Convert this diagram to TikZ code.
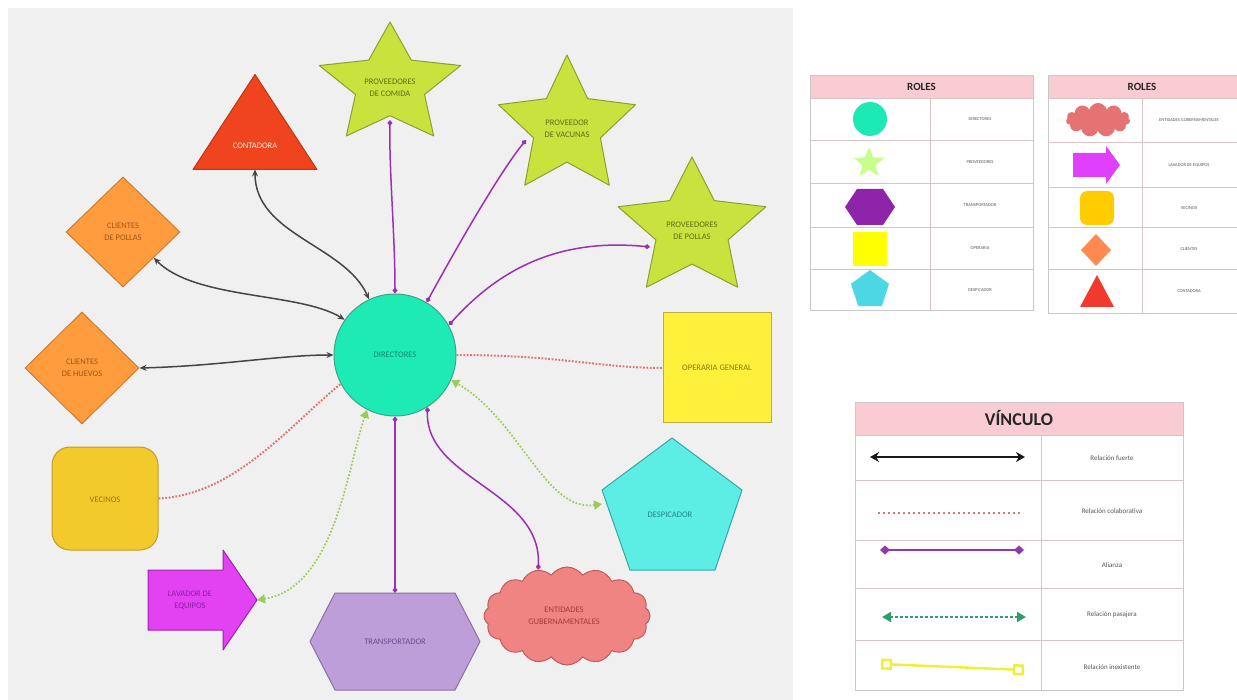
\documentclass[tikz,border=0pt]{standalone}
\usepackage{fontspec}
\setmainfont{Carlito}
\usetikzlibrary{shapes.geometric,shapes.symbols,arrows.meta}
\definecolor{bggray}{HTML}{F0F0F0}
\definecolor{dirF}{HTML}{1EEAB4}\definecolor{dirB}{HTML}{3AA58A}\definecolor{dirT}{HTML}{138A6C}
\definecolor{contF}{HTML}{F0441E}\definecolor{contB}{HTML}{B83818}
\definecolor{starF}{HTML}{CAE23E}\definecolor{starB}{HTML}{8E9E32}\definecolor{starT}{HTML}{5E6E14}
\definecolor{diaF}{HTML}{FF9D3E}\definecolor{diaB}{HTML}{CC7C34}\definecolor{diaT}{HTML}{9C5818}
\definecolor{vecF}{HTML}{F3CA2C}\definecolor{vecB}{HTML}{C49A2A}\definecolor{vecT}{HTML}{967412}
\definecolor{lavF}{HTML}{E242F2}\definecolor{lavB}{HTML}{9E22B0}\definecolor{lavT}{HTML}{8A1E9E}
\definecolor{trF}{HTML}{BE9ED8}\definecolor{trB}{HTML}{8C6EAA}\definecolor{trT}{HTML}{6A4C90}
\definecolor{entF}{HTML}{F08482}\definecolor{entB}{HTML}{C05C5A}\definecolor{entT}{HTML}{A83838}
\definecolor{despF}{HTML}{5CEDE4}\definecolor{despB}{HTML}{3AA6A6}\definecolor{despT}{HTML}{1E8888}
\definecolor{opF}{HTML}{FFF03C}\definecolor{opB}{HTML}{BCAE3E}\definecolor{opT}{HTML}{8A7A12}
\definecolor{strongc}{HTML}{454545}\definecolor{allyc}{HTML}{9B30B5}
\definecolor{collabc}{HTML}{E0766E}\definecolor{passc}{HTML}{9CCB5A}
\definecolor{hdrF}{HTML}{F8CCD2}\definecolor{gridc}{HTML}{DCC2C6}\definecolor{outc}{HTML}{C8C8C8}
\definecolor{legT}{HTML}{555555}
\definecolor{icCirc}{HTML}{1DE9B6}\definecolor{icStar}{HTML}{C6FF8C}\definecolor{icHex}{HTML}{8E24AA}
\definecolor{icSq}{HTML}{FFFF00}\definecolor{icPent}{HTML}{4DD6E4}\definecolor{icCloud}{HTML}{E57373}
\definecolor{icArr}{HTML}{E040FB}\definecolor{icRsq}{HTML}{FFCC00}\definecolor{icDia}{HTML}{FF8A50}
\definecolor{icTri}{HTML}{F03A2E}\definecolor{legPass}{HTML}{2E9E6E}\definecolor{legYel}{HTML}{EEF030}
\definecolor{legAlly}{HTML}{8E3AAE}
\newcommand{\mystarshape}[6]{%
  \filldraw[#6] plot[samples at={0,...,9}, variable=\k]
   ({#1 + #5*#3*(1-(1-1/#4)*mod(\k,2))*sin(36*\k)},
    {#2 - #3*(1-(1-1/#4)*mod(\k,2))*cos(36*\k)}) -- cycle;}
\begin{document}
\begin{tikzpicture}[x=1pt,y=-1pt,
  lbl/.style={font=\fontsize{8.5}{12}\selectfont, align=center, inner sep=1pt},
  box/.style={inner sep=0pt, outer sep=0pt, draw=none},
  shp/.style={line width=1pt, line join=round},
  strong/.style={draw=strongc, line width=1.5pt, {Stealth[length=7pt,width=6pt]}-{Stealth[length=7pt,width=6pt]}},
  ally/.style={draw=allyc, line width=1.5pt, {Diamond[length=6pt,width=5pt]}-{Diamond[length=6pt,width=5pt]}},
  collab/.style={draw=collabc, line width=2pt, dash pattern=on 1.8pt off 1.6pt},
  passing/.style={draw=passc, line width=1.7pt, dash pattern=on 1.7pt off 1.8pt, {Triangle[length=8pt,width=9pt]}-{Triangle[length=8pt,width=9pt]}},
  hdr/.style={font=\bfseries\fontsize{11}{12}\selectfont, text=black!85},
  rolet/.style={font=\fontsize{4.5}{5}\selectfont, text=legT},
  vinct/.style={font=\fontsize{7}{8}\selectfont, text=legT}]
\useasboundingbox (0,0) rectangle (1237,700);
\fill[bggray] (8,8) rectangle (793,700);

% ---------- shapes of the diagram ----------
\node[circle, draw=dirB, fill=dirF, line width=1pt, minimum size=122pt, inner sep=0pt] (dir) at (395,355) {};
\node[box, minimum width=124pt, minimum height=95pt] (cont) at (255,122) {};
\filldraw[shp, fill=contF, draw=contB] (cont.north) -- (cont.south west) -- (cont.south east) -- cycle;
\mystarshape{390}{85}{63}{2.05}{1.18}{shp, fill=starF, draw=starB}
\mystarshape{567}{127}{72}{2.05}{1.0}{shp, fill=starF, draw=starB}
\mystarshape{692}{229}{72}{2.05}{1.08}{shp, fill=starF, draw=starB}
\node[diamond, draw=diaB, fill=diaF, line width=1pt, minimum width=114pt, minimum height=110pt, inner sep=0pt] (cp) at (123,232) {};
\node[diamond, draw=diaB, fill=diaF, line width=1pt, minimum width=114pt, minimum height=112pt, inner sep=0pt] (cv) at (82,368) {};
\node[rectangle, rounded corners=18pt, draw=vecB, fill=vecF, line width=1pt, minimum width=106pt, minimum height=103pt] (vec) at (105,498.5) {};
\node[box, minimum width=109pt, minimum height=100pt] (lav) at (202.5,600) {};
\filldraw[shp, fill=lavF, draw=lavB] (lav.west |- 0,570) -- (223,570) -- (223,550) -- (lav.east) -- (223,650) -- (223,630) -- (lav.west |- 0,630) -- cycle;
\node[box, minimum width=170pt, minimum height=97pt] (tr) at (395,641.5) {};
\filldraw[shp, fill=trF, draw=trB] (tr.west) -- (335,593) -- (455,593) -- (tr.east) -- (455,690) -- (335,690) -- cycle;
\node[cloud, cloud puffs=16, cloud puff arc=110, aspect=1.7, draw=entB, fill=entF, line width=1pt, minimum width=166pt, minimum height=98pt, inner sep=0pt] (ent) at (567,616) {};
\node[box, minimum width=140pt, minimum height=132pt] (desp) at (672,504) {};
\filldraw[shp, fill=despF, draw=despB] (desp.north) -- (desp.east |- 0,490) -- (715,570) -- (630,570) -- (desp.west |- 0,490) -- cycle;
\node[rectangle, draw=opB, fill=opF, line width=1pt, minimum width=108pt, minimum height=110pt] (op) at (717,368) {};

% ---------- text labels ----------
\node[lbl, text=dirT] (dirt) at (dir) {DIRECTORES};
\node[lbl, text=white!90!contF] (contt) at (255,146) {CONTADORA};
\node[lbl, text=starT] (pc) at (390,88) {PROVEEDORES\\DE COMIDA};
\node[lbl, text=starT] (pv) at (567,129) {PROVEEDOR\\DE VACUNAS};
\node[lbl, text=starT] (pp) at (692,231) {PROVEEDORES\\DE POLLAS};
\node[lbl, text=diaT] (cpt) at (cp) {CLIENTES\\DE POLLAS};
\node[lbl, text=diaT] (cvt) at (cv) {CLIENTES\\DE HUEVOS};
\node[lbl, text=vecT] (vect) at (105,500) {VECINOS};
\node[lbl, text=lavT] (lavt) at (190,600) {LAVADOR DE\\EQUIPOS};
\node[lbl, text=trT] (trt) at (395,642) {TRANSPORTADOR};
\node[lbl, text=entT] (entt) at (564,616) {ENTIDADES\\GUBERNAMENTALES};
\node[lbl, text=despT] (despt) at (670,515) {DESPICADOR};
\node[lbl, text=opT] (opt) at (op) {OPERARIA GENERAL};

% ---------- connectors ----------
\draw[strong] (cont.south) .. controls (255,235) and (345,245) .. (dir.115);
\draw[strong] (cp.-40) .. controls (195,300) and (300,292) .. (dir.145);
\draw[strong] (cv.east) .. controls (220,366) and (280,355) .. (dir.180);
\draw[collab] (vec.east) .. controls (235,495) and (290,425) .. (dir.208);
\draw[passing] (lav.east) .. controls (335,588) and (348,465) .. (dir.243);
\draw[ally] (tr.north) -- (dir.270);
\draw[ally] (ent.122) .. controls (542,490) and (425,480) .. (dir.302);
\draw[passing] (desp.west) .. controls (545,512) and (520,420) .. (dir.336);
\draw[collab] (dir.0) .. controls (560,355) and (600,368) .. (op.west);
\draw[ally] ([shift={(-42,16)}]pp.center) .. controls (560,238) and (500,268) .. (dir.29);
\draw[ally] ([shift={(-41,11)}]pv.center) .. controls (500,172) and (458,245) .. (dir.59);
\draw[ally] ([shift={(0,32)}]pc.center) .. controls (389,170) and (395,235) .. (dir.90);

% ---------- legend: ROLES 1 ----------
\fill[hdrF] (810,75) rectangle (1033,98);
\foreach \yy in {98,140,183,227,269} \draw[gridc, line width=0.8pt] (810,\yy) -- (1033,\yy);
\draw[gridc, line width=0.8pt] (930,98) -- (930,310);
\draw[outc, line width=0.8pt] (810,75) rectangle (1033,310);
\node[hdr] (r1h) at (921.5,87) {ROLES};
\fill[icCirc] (870,119) circle (17);
\mystarshape{869}{163}{16}{2.3}{1}{fill=icStar, draw=none}
\fill[icHex] (845,207) -- (857,189) -- (883,189) -- (895,207) -- (883,225) -- (857,225) -- cycle;
\fill[icSq] (853,232) rectangle (887,266);
\node[regular polygon, regular polygon sides=5, fill=icPent, minimum size=40pt, inner sep=0pt] (r1i5) at (870,290) {};
\node[rolet] (r1a) at (980,119) {DIRECTORES};
\node[rolet] (r1b) at (980,162) {PROVEEDORES};
\node[rolet] (r1c) at (980,205) {TRANSPORTADOR};
\node[rolet] (r1d) at (980,248) {OPERARIA};
\node[rolet] (r1e) at (980,290) {DESPICADOR};

% ---------- legend: ROLES 2 ----------
\fill[hdrF] (1048,75) rectangle (1237,98);
\foreach \yy in {98,142,187,227,269} \draw[gridc, line width=0.8pt] (1048,\yy) -- (1237,\yy);
\draw[gridc, line width=0.8pt] (1142,98) -- (1142,313);
\draw[outc, line width=0.8pt] (1237,75) -- (1048,75) -- (1048,313) -- (1237,313);
\node[hdr] (r2h) at (1142,87) {ROLES};
\node[cloud, cloud puffs=11, aspect=1.9, fill=icCloud, minimum width=64pt, minimum height=34pt, inner sep=0pt] (r2i1) at (1098,120) {};
\fill[icArr] (1073,153) -- (1106,153) -- (1106,146) -- (1120,165) -- (1106,184) -- (1106,177) -- (1073,177) -- cycle;
\fill[icRsq, rounded corners=7pt] (1080,191) rectangle (1114,225);
\fill[icDia] (1096,234) -- (1111,250) -- (1096,266) -- (1081,250) -- cycle;
\fill[icTri] (1097,275) -- (1114,307) -- (1080,307) -- cycle;
\node[rolet] (r2a) at (1189,120) {ENTIDADES GUBERNAMENTALES};
\node[rolet] (r2b) at (1189,165) {LAVADOR DE EQUIPOS};
\node[rolet] (r2c) at (1189,208) {VECINOS};
\node[rolet] (r2d) at (1189,249) {CLIENTES};
\node[rolet] (r2e) at (1189,291) {CONTADORA};

% ---------- legend: VINCULO ----------
\fill[hdrF] (855,402) rectangle (1183,435);
\foreach \yy in {435,480,540,588,640} \draw[gridc, line width=0.8pt] (855,\yy) -- (1183,\yy);
\draw[gridc, line width=0.8pt] (1041,435) -- (1041,690);
\draw[outc, line width=0.8pt] (855,402) rectangle (1183,690);
\node[font=\bfseries\fontsize{18}{20}\selectfont, text=black!85] (vh) at (1019,418) {VÍNCULO};
\coordinate (va1) at (870,457); \coordinate (vb1) at (1025,457);
\coordinate (va2) at (878,513); \coordinate (vb2) at (1023,513);
\coordinate (va3) at (880,550); \coordinate (vb3) at (1024,550);
\coordinate (va4) at (882,617); \coordinate (vb4) at (1026,617);
\coordinate (va5) at (881,664); \coordinate (vb5) at (1024,670);
\draw[black!90, line width=2.6pt, {Stealth[length=9pt,width=10pt]}-{Stealth[length=9pt,width=10pt]}] (va1) -- (vb1);
\draw[collabc, line width=2.2pt, dash pattern=on 2.2pt off 2.8pt] (va2) -- (vb2);
\draw[legAlly, line width=2.2pt, {Diamond[length=10pt,width=9pt]}-{Diamond[length=10pt,width=9pt]}] (va3) -- (vb3);
\draw[legPass, line width=2.2pt, dash pattern=on 2.2pt off 2.8pt, {Triangle[length=9pt,width=10pt]}-{Triangle[length=9pt,width=10pt]}] (va4) -- (vb4);
\draw[legYel, line width=2.4pt, {Square[open,length=11pt,width=11pt]}-{Square[open,length=11pt,width=11pt]}] (va5) -- (vb5);
\node[vinct] (v1) at (1112,458) {Relación fuerte};
\node[vinct] (v2) at (1112,511) {Relación colaborativa};
\node[vinct] (v3) at (1112,565) {Alianza};
\node[vinct] (v4) at (1112,615) {Relación pasajera};
\node[vinct] (v5) at (1112,667) {Relación inexistente};
\end{tikzpicture}
\end{document}
